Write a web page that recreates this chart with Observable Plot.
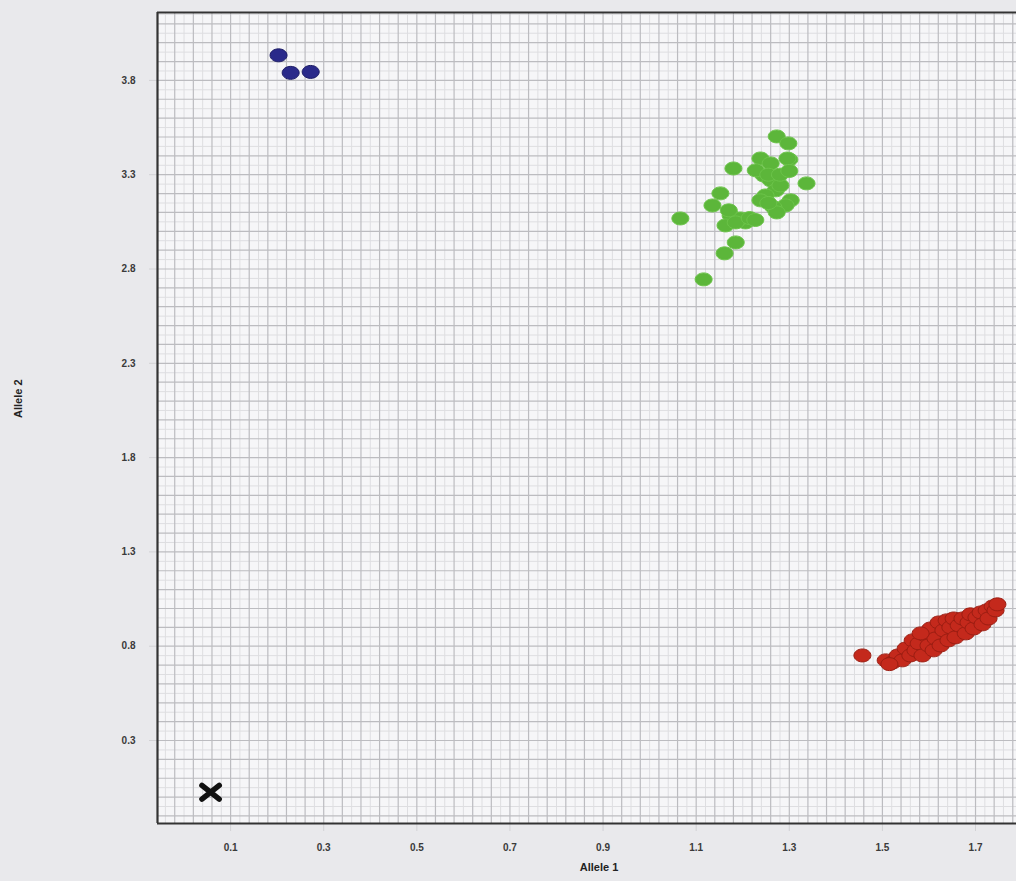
<!DOCTYPE html>
<html><head><meta charset="utf-8">
<script src="https://cdn.jsdelivr.net/npm/d3@7"></script>
<script src="https://cdn.jsdelivr.net/npm/@observablehq/plot@0.6"></script>
<style>
html,body{margin:0;padding:0;background:#e9e9ec;}
#chart{width:1016px;height:881px;overflow:hidden;}
</style></head><body><div id="chart"></div>
<script>
const xTicks = [0.1, 0.3, 0.5, 0.7, 0.9, 1.1, 1.3, 1.5, 1.7];
const yTicks = [0.3, 0.8, 1.3, 1.8, 2.3, 2.8, 3.3, 3.8];
const xDomain = [-0.057, 1.788];
const yDomain = [-0.14, 4.16];
const xLabel = "Allele 1";
const yLabel = "Allele 2";

// Homozygous allele 2 (blue)
const blueX = [0.203, 0.229, 0.272];
const blueY = [3.933, 3.840, 3.845];

// Heterozygous (green)
const greenX = [1.273, 1.298, 1.300, 1.180, 1.238, 1.260, 1.296, 1.245, 1.260, 1.271, 1.249, 1.281,
  1.337, 1.152, 1.135, 1.066, 1.303, 1.292, 1.266, 1.273, 1.174, 1.206, 1.195, 1.163, 1.185, 1.170,
  1.185, 1.161, 1.116, 1.228, 1.238, 1.255, 1.280, 1.255, 1.300, 1.215, 1.227];
const greenY = [3.503, 3.466, 3.380, 3.333, 3.386, 3.360, 3.386, 3.296, 3.270, 3.217, 3.190, 3.243,
  3.254, 3.201, 3.137, 3.068, 3.164, 3.137, 3.127, 3.100, 3.084, 3.047, 3.068, 3.031, 3.047, 3.111,
  2.941, 2.883, 2.745, 3.323, 3.164, 3.300, 3.300, 3.150, 3.320, 3.070, 3.060];

// Homozygous allele 1 (red)
const redX = [1.457, 1.507, 1.522, 1.533, 1.543, 1.550, 1.560, 1.565, 1.571, 1.578, 1.586, 1.593,
  1.599, 1.603, 1.610, 1.614, 1.621, 1.625, 1.631, 1.638, 1.642, 1.646, 1.653, 1.657, 1.664, 1.672,
  1.679, 1.685, 1.689, 1.696, 1.702, 1.711, 1.715, 1.724, 1.728, 1.737, 1.743, 1.747, 1.582, 1.515];
const redY = [0.751, 0.725, 0.714, 0.751, 0.725, 0.788, 0.751, 0.831, 0.778, 0.815, 0.751, 0.857,
  0.804, 0.894, 0.778, 0.841, 0.926, 0.804, 0.884, 0.937, 0.831, 0.900, 0.947, 0.847, 0.910, 0.947,
  0.868, 0.926, 0.969, 0.894, 0.953, 0.979, 0.916, 0.990, 0.947, 1.011, 0.990, 1.022, 0.868, 0.705];

// No-template control (black X)
const ntcX = [0.057];
const ntcY = [0.026];

const ellipse = {
  draw(ctx, size) {
    const r = Math.sqrt(size / Math.PI);
    const rx = r * 1.18, ry = r * 0.9, k = 0.5523;
    ctx.moveTo(rx, 0);
    ctx.bezierCurveTo(rx, ry * k, rx * k, ry, 0, ry);
    ctx.bezierCurveTo(-rx * k, ry, -rx, ry * k, -rx, 0);
    ctx.bezierCurveTo(-rx, -ry * k, -rx * k, -ry, 0, -ry);
    ctx.bezierCurveTo(rx * k, -ry, rx, -ry * k, rx, 0);
    ctx.closePath();
  }
};
const cross = {
  draw(ctx, size) {
    const r = Math.sqrt(size / Math.PI);
    const rx = r * 1.2, ry = r * 0.95;
    ctx.moveTo(-rx, -ry); ctx.lineTo(rx, ry);
    ctx.moveTo(-rx, ry); ctx.lineTo(rx, -ry);
  }
};

const pts = (xs, ys) => xs.map((x, i) => ({x, y: ys[i]}));
const xGridAll = d3.range(-2, 90).map(i => ({v: +(i * 0.02).toFixed(3), major: i % 2 !== 0}));
const yGridAll = d3.range(-2, 84).map(i => ({v: +(i * 0.05).toFixed(3), major: i % 2 === 0}));
const inX = d => d.v >= xDomain[0] && d.v <= xDomain[1];
const inY = d => d.v >= yDomain[0] && d.v <= yDomain[1];
const xMinor = xGridAll.filter(d => inX(d) && !d.major).map(d => d.v);
const xMajor = xGridAll.filter(d => inX(d) && d.major).map(d => d.v);
const yMinor = yGridAll.filter(d => inY(d) && !d.major).map(d => d.v);
const yMajor = yGridAll.filter(d => inY(d) && d.major).map(d => d.v);

const fmt = d3.format(".1f");

const chart = Plot.plot({
  width: 1016,
  height: 881,
  marginLeft: 157,
  marginRight: 0,
  marginTop: 12,
  marginBottom: 58,
  style: {background: "transparent", fontFamily: "'Liberation Sans', Arial, sans-serif", fontSize: "10px", fontWeight: "bold"},
  x: {domain: xDomain},
  y: {domain: yDomain},
  marks: [
    Plot.frame({fill: "#f6f6f8", stroke: null}),
    Plot.ruleX(xMinor, {stroke: "#dedee1", strokeWidth: 1}),
    Plot.ruleY(yMinor, {stroke: "#dedee1", strokeWidth: 1}),
    Plot.ruleX(xMajor, {stroke: "#bcbcc0", strokeWidth: 1.2}),
    Plot.ruleY(yMajor, {stroke: "#bcbcc0", strokeWidth: 1.2}),
    Plot.axisX(xTicks, {tickFormat: fmt, tickSize: 8, tickPadding: 12, stroke: "#d2d2d5", fill: "#3a3a3a", label: null}),
    Plot.axisY(yTicks, {tickFormat: fmt, tickSize: 8, tickPadding: 14, stroke: "#d2d2d5", fill: "#3a3a3a", label: null}),
    Plot.ruleX([xDomain[0]], {stroke: "#333", strokeWidth: 2.2}),
    Plot.ruleY(yDomain, {stroke: "#333", strokeWidth: 2.2}),
    Plot.dot(pts(redX, redY), {x: "x", y: "y", symbol: ellipse, r: 7.2, fill: "#c4291c", stroke: "#9a1d12", strokeWidth: 1}),
    Plot.dot(pts(greenX, greenY), {x: "x", y: "y", symbol: ellipse, r: 7.2, fill: "#5cb63a", stroke: "#6cc44a", strokeWidth: 1}),
    Plot.dot(pts(blueX, blueY), {x: "x", y: "y", symbol: ellipse, r: 7.2, fill: "#2a2a8a", stroke: "#1c1c66", strokeWidth: 1}),
    Plot.dot(pts(ntcX, ntcY), {x: "x", y: "y", symbol: cross, r: 7.2, fill: "none", stroke: "#111", strokeWidth: 5.5, strokeLinecap: "round"}),
    Plot.text([xLabel], {frameAnchor: "bottom", dy: 47, dx: 12, fontSize: 11, fontWeight: "bold", fill: "#222"}),
    Plot.text([yLabel], {frameAnchor: "left", dx: -139, rotate: -90, fontSize: 11, fontWeight: "bold", fill: "#222"})
  ]
});
document.getElementById("chart").appendChild(chart);
</script>
</body></html>
